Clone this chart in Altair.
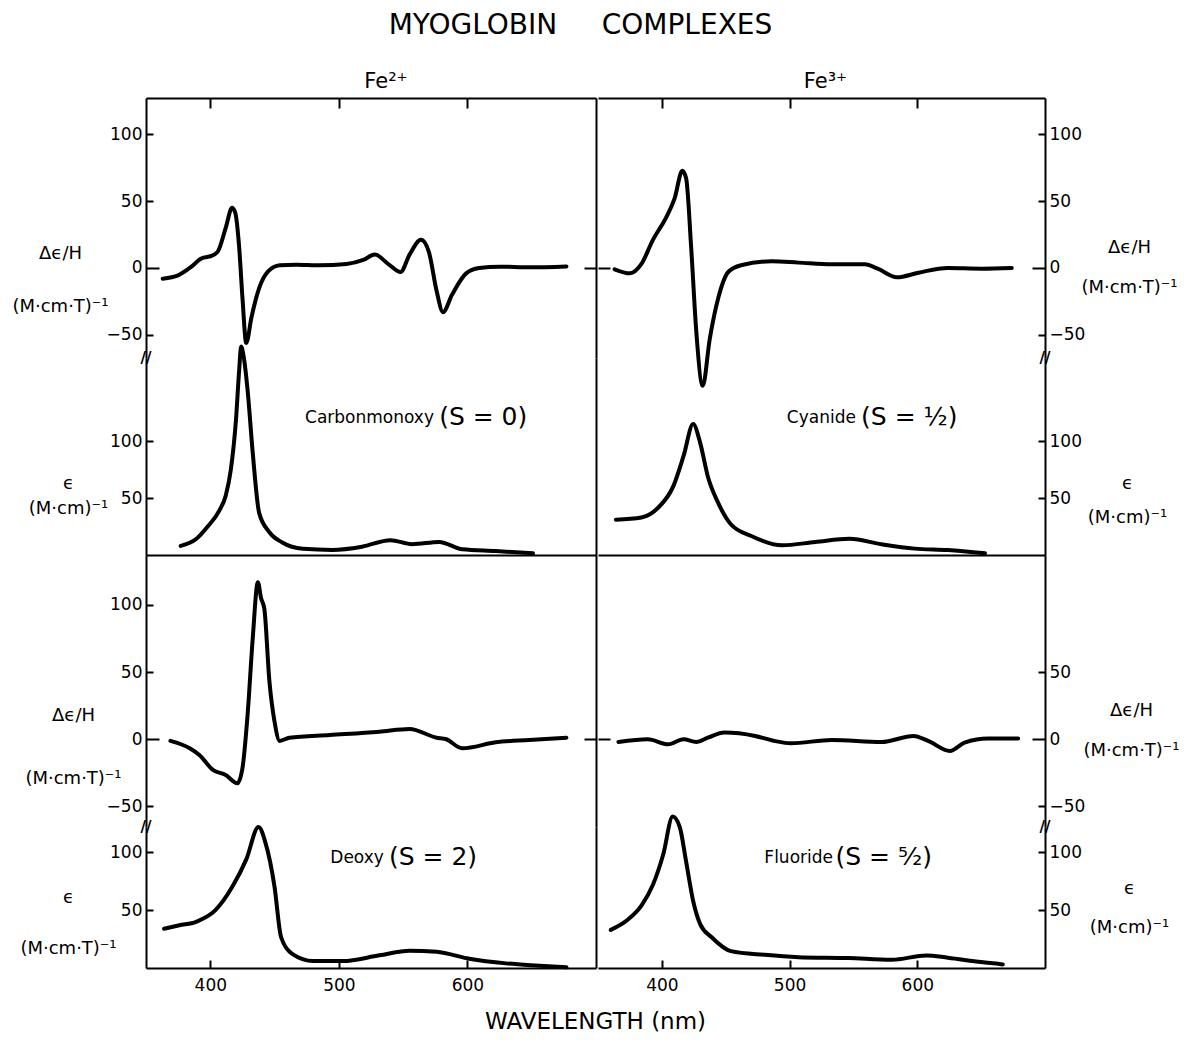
import altair as alt
import pandas as pd

FONT = "DejaVu Sans"
X_DOMAIN = [350, 700]

# ---------------- data ----------------
# Fe2+ Carbonmonoxy
CO_MCD_WL = [363, 375, 384, 393, 402, 406, 412, 417, 419.5, 422.5, 425, 428, 432, 438, 445, 454, 467, 485,
             506, 519, 528, 539, 548, 555, 564, 570, 576, 581, 588, 599, 609, 625, 648, 677]
CO_MCD = [-8, -5.5, 0, 7, 9.5, 12.5, 30, 45, 41, 15, -22, -56, -37, -15, -2.5, 2, 2.5, 2,
          3, 6, 10, 2.5, -3, 10, 21, 12, -17, -33, -20, -4, 0, 1, 0.5, 1.2]
CO_ABS_WL = [377, 389, 398, 407, 412, 416, 420, 422.5, 424, 426, 429, 433, 438, 446, 456, 472, 495, 518,
             540, 557, 578, 596, 622, 651]
CO_ABS = [8, 14, 25, 39, 52, 75, 119, 163, 183, 174, 145, 90, 37, 20, 11, 5.5, 4.5, 7.3,
          13, 9.5, 11.5, 5, 3.5, 1.5]

# Fe3+ Cyanide
CN_MCD_WL = [363, 375, 384, 393, 403.5, 410, 416, 419, 423, 427, 432, 437.5, 444, 452, 462, 486, 507, 533,
             559, 569, 584, 601, 624, 650, 674]
CN_MCD = [-1, -4, 3, 21, 38, 52, 72.5, 67, 14.5, -48, -88, -53, -23, -3, 2, 5, 4, 2.7,
          2.7, -0.5, -7, -3.5, 0, -0.5, 0]
CN_ABS_WL = [364, 384, 397, 409, 417, 424.5, 430, 436, 444, 454, 470, 494, 520, 547, 572, 598, 624, 653]
CN_ABS = [31, 33, 41.5, 60.5, 87, 115, 98.5, 69, 46, 27, 16.7, 8.5, 11.4, 14.3, 9.4, 5.6, 4.4, 1.5]

# Fe2+ Deoxy
DX_MCD_WL = [369, 384, 391.5, 402, 412, 421, 425, 429, 433, 437, 439.5, 442, 446, 450, 454, 461.5, 493,
             531.5, 555, 576, 583, 596, 622, 648, 677]
DX_MCD = [-1.2, -6.7, -11.7, -22.8, -26.6, -32.8, -21.6, 18, 75, 117, 105, 97.5, 43, 13, -1.2, 1.2, 3.2,
          5.7, 7.7, 1.2, 0.2, -6.7, -2.2, -0.5, 1.2]
DX_ABS_WL = [364, 376, 389, 404, 417, 428, 437.5, 443, 450, 455, 464, 480, 503, 531.5, 555, 576, 601.5,
             630, 656, 677]
DX_ABS = [34, 37, 40, 50, 70, 94, 122, 108, 70, 27, 12, 6, 6, 11, 15, 14, 8, 4, 2, 0.6]

# Fe3+ Fluoride
FL_MCD_WL = [366, 389, 405, 417, 427, 436, 449, 473, 488, 501, 533, 572, 597, 608.5, 625.5, 637, 655.5, 679]
FL_MCD = [-2, 0, -3.7, 0, -2, 1.2, 5, 2.5, -1.2, -3, -0.5, -2, 2.5, -1.2, -8.7, -2.5, 0.5, 0.5]
FL_ABS_WL = [360, 373.5, 384, 393, 401, 408.5, 414, 419, 424.5, 430, 439, 454, 480.5, 507, 546, 580, 607,
             624, 650, 667]
FL_ABS = [33, 42, 54, 72, 98, 131, 122, 92, 58, 38, 26.6, 14.6, 11.4, 9.4, 8.6, 7.1, 10.9, 8.9, 5.1, 3.1]

X_TICKS = [400, 500, 600]
MCD_TICKS = [-50, 0, 50, 100]
MCD_TICKS_FL = [-50, 0, 50]
ABS_TICKS = [50, 100]

MCD_TITLE = ["Δϵ/H", "(M·cm·T)⁻¹"]
ABS_TITLE = ["ϵ", "(M·cm)⁻¹"]
ABS_TITLE_T = ["ϵ", "(M·cm·T)⁻¹"]

ONE = pd.DataFrame({"k": [0]})


def main_y_axis(side, values, title, tx, ty, lh):
    return alt.Axis(orient=side, values=values, ticks=False, tickSize=0, domain=True, labels=True,
                    labelPadding=4, labelFontSize=17, format="d", grid=False,
                    title=title, titleAngle=0, titleX=tx, titleY=ty, titleAlign="center",
                    titleBaseline="middle", titleLineHeight=lh, titleFontSize=18,
                    titleFontWeight="normal")


def tick_axis(side, values, size):
    return alt.Axis(orient=side, values=values, offset=-size, tickSize=size, domain=False,
                    labels=False, title=None, grid=False)


def panel(wl, val, ydom, w, h, side, yticks, ytitle, tx, ty, lh, xmode, mcd,
          labels=(), col_title=None, title_dx=0):
    src = pd.DataFrame({"wl": wl, "v": val})
    xs = alt.Scale(domain=X_DOMAIN, nice=False, zero=False)
    ys = alt.Scale(domain=ydom, nice=False, zero=False)
    other = "right" if side == "left" else "left"

    if xmode == "top":
        xmain = alt.Axis(orient="top", domain=True, ticks=False, labels=False, title=None, grid=False)
        xtick = alt.Axis(orient="top", values=X_TICKS, offset=-10, tickSize=10, domain=False,
                         labels=False, title=None, grid=False)
    elif xmode == "mid":
        xmain = alt.Axis(orient="bottom", domain=True, ticks=False, labels=False, title=None, grid=False)
        xtick = None
    elif xmode == "bottom":
        xmain = alt.Axis(orient="bottom", values=X_TICKS, domain=True, ticks=False, tickSize=0,
                         labels=True, labelPadding=9, labelFontSize=17, title=None, grid=False)
        xtick = alt.Axis(orient="bottom", values=X_TICKS, offset=-8, tickSize=8, domain=False,
                         labels=False, title=None, grid=False)
    else:
        xmain = None
        xtick = None

    layers = [
        alt.Chart(src).mark_line(color="black", strokeWidth=4, interpolate="monotone",
                                 strokeCap="round", strokeJoin="round").encode(
            x=alt.X("wl:Q", scale=xs, axis=xmain),
            y=alt.Y("v:Q", scale=ys, axis=main_y_axis(side, yticks, ytitle, tx, ty, lh)),
        )
    ]
    nz = [t for t in yticks if t != 0]
    layers.append(alt.Chart(src).mark_point(opacity=0).encode(
        x=alt.X("wl:Q", axis=xtick), y=alt.Y("v:Q", axis=tick_axis(side, nz, 7))))
    if mcd:
        layers.append(alt.Chart(src).mark_point(opacity=0).encode(
            x=alt.X("wl:Q", axis=None), y=alt.Y("v:Q", axis=tick_axis(side, [0], 13))))
        layers.append(alt.Chart(src).mark_point(opacity=0).encode(
            x=alt.X("wl:Q", axis=None), y=alt.Y("v:Q", axis=tick_axis(other, [0], 12))))
    if side == "left":
        layers.append(alt.Chart(src).mark_point(opacity=0).encode(
            x=alt.X("wl:Q", axis=None),
            y=alt.Y("v:Q", axis=alt.Axis(orient="right", domain=True, ticks=False, labels=False,
                                         title=None, grid=False))))
    for text, lx, ly, align, fs in labels:
        layers.append(alt.Chart(ONE).mark_text(text=text, align=align, baseline="middle", fontSize=fs,
                                               font=FONT, color="black").encode(
            x=alt.XDatum(lx, type="quantitative", axis=None),
            y=alt.YDatum(ly, type="quantitative", axis=None)))
    if mcd:
        edge = X_DOMAIN[0] if side == "left" else X_DOMAIN[1]
        layers.append(alt.Chart(ONE).mark_text(text="//", align="center", baseline="middle", fontSize=15,
                                               fontWeight="bold", font=FONT, color="black").encode(
            x=alt.XDatum(edge, type="quantitative", axis=None),
            y=alt.YDatum(ydom[0], type="quantitative", axis=None)))

    ch = alt.layer(*layers).resolve_axis(x="independent", y="independent").properties(width=w, height=h)
    if col_title:
        ch = ch.properties(title=alt.TitleParams(col_title, anchor="middle", frame="group", fontSize=21,
                                                 font=FONT, fontWeight="normal", offset=5, dx=title_dx))
    return ch


WL_L, WL_R = 450, 447
H_MCD1, H_ABS1, H_MCD2, H_ABS2 = 260, 197, 272, 141
D_MCD1, D_ABS1, D_MCD2, D_ABS2 = [-67.2, 126.9], [0, 173], [-65.3, 137.2], [0, 122]

left_col = alt.vconcat(
    panel(CO_MCD_WL, CO_MCD, D_MCD1, WL_L, H_MCD1, "left", MCD_TICKS, MCD_TITLE, -86, 155, 53, "top", True,
          col_title="Fe²⁺", title_dx=15),
    panel(CO_ABS_WL, CO_ABS, D_ABS1, WL_L, H_ABS1, "left", ABS_TICKS, ABS_TITLE, -78, 125, 25, "mid", False,
          labels=[("Carbonmonoxy", 574, 120, "right", 17), ("(S = 0)", 578, 121, "left", 25)]),
    panel(DX_MCD_WL, DX_MCD, D_MCD2, WL_L, H_MCD2, "left", MCD_TICKS, MCD_TITLE, -73, 160, 63, "none", True),
    panel(DX_ABS_WL, DX_ABS, D_ABS2, WL_L, H_ABS2, "left", ABS_TICKS, ABS_TITLE_T, -78, 70, 51, "bottom", False,
          labels=[("Deoxy", 535, 95, "right", 17), ("(S = 2)", 539, 96, "left", 25)]),
    spacing=0, bounds="flush",
)

right_col = alt.vconcat(
    panel(CN_MCD_WL, CN_MCD, D_MCD1, WL_R, H_MCD1, "right", MCD_TICKS, MCD_TITLE, 84, 149, 40, "top", True,
          col_title="Fe³⁺", title_dx=4),
    panel(CN_ABS_WL, CN_ABS, D_ABS1, WL_R, H_ABS1, "right", ABS_TICKS, ABS_TITLE, 82, 125, 34, "mid", False,
          labels=[("Cyanide", 552, 120, "right", 17), ("(S = ½)", 556, 121, "left", 25)]),
    panel(FL_MCD_WL, FL_MCD, D_MCD2, WL_R, H_MCD2, "right", MCD_TICKS_FL, MCD_TITLE, 86, 155, 40, "none", True),
    panel(FL_ABS_WL, FL_ABS, D_ABS2, WL_R, H_ABS2, "right", ABS_TICKS, ABS_TITLE, 84, 61, 39, "bottom", False,
          labels=[("Fluoride", 534, 95, "right", 17), ("(S = ⁵⁄₂)", 536, 96, "left", 25)]),
    spacing=0, bounds="flush",
)

body = alt.hconcat(
    left_col, right_col, spacing=0,
    title=alt.TitleParams("WAVELENGTH (nm)", orient="bottom", anchor="middle", fontSize=23, font=FONT,
                          fontWeight="normal", offset=18),
)

chart = alt.vconcat(
    body,
    title=alt.TitleParams("MYOGLOBIN\u00a0\u00a0\u00a0\u00a0\u00a0COMPLEXES", anchor="middle", fontSize=28,
                          font=FONT, fontWeight="normal", offset=31, dx=-15),
).properties(
    padding={"left": 3, "top": 4, "right": 0, "bottom": 0}
).configure_view(stroke=None).configure_axis(
    domainColor="black", domainWidth=2, tickColor="black", tickWidth=2, labelColor="black",
    titleColor="black", labelFont=FONT, titleFont=FONT, grid=False,
).configure_title(color="black", font=FONT)

chart.save("out.html", embed_options={"renderer": "svg", "actions": False})
